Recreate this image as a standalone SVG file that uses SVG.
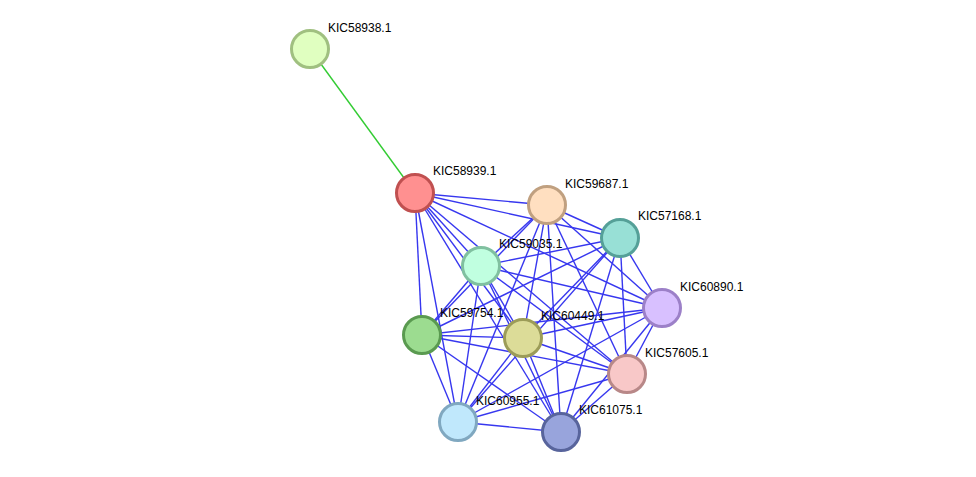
<svg xmlns="http://www.w3.org/2000/svg" width="976" height="477" viewBox="0 0 976 477">
<style>
.e{stroke:#2222ee;stroke-width:1.4;opacity:0.9}
.n{stroke-width:3}
text{font-family:"Liberation Sans",Arial,sans-serif;font-size:12px;fill:#000}
</style>
<rect width="976" height="477" fill="#fff"/>
<g id="connectors">
<line x1="310" y1="49" x2="415" y2="193" stroke="#33cc33" stroke-width="1.4"/>
<g class="e">
<line x1="415" y1="193" x2="547" y2="205"/><line x1="415" y1="193" x2="620" y2="238"/><line x1="415" y1="193" x2="481" y2="266"/><line x1="415" y1="193" x2="662" y2="308"/><line x1="415" y1="193" x2="422" y2="335"/><line x1="415" y1="193" x2="523" y2="338"/><line x1="415" y1="193" x2="627" y2="374"/><line x1="415" y1="193" x2="458" y2="422"/><line x1="415" y1="193" x2="561" y2="432"/>
<line x1="547" y1="205" x2="620" y2="238"/><line x1="547" y1="205" x2="481" y2="266"/><line x1="547" y1="205" x2="662" y2="308"/><line x1="547" y1="205" x2="422" y2="335"/><line x1="547" y1="205" x2="523" y2="338"/><line x1="547" y1="205" x2="627" y2="374"/><line x1="547" y1="205" x2="458" y2="422"/><line x1="547" y1="205" x2="561" y2="432"/>
<line x1="620" y1="238" x2="481" y2="266"/><line x1="620" y1="238" x2="662" y2="308"/><line x1="620" y1="238" x2="422" y2="335"/><line x1="620" y1="238" x2="523" y2="338"/><line x1="620" y1="238" x2="627" y2="374"/><line x1="620" y1="238" x2="458" y2="422"/><line x1="620" y1="238" x2="561" y2="432"/>
<line x1="481" y1="266" x2="662" y2="308"/><line x1="481" y1="266" x2="422" y2="335"/><line x1="481" y1="266" x2="523" y2="338"/><line x1="481" y1="266" x2="627" y2="374"/><line x1="481" y1="266" x2="458" y2="422"/><line x1="481" y1="266" x2="561" y2="432"/>
<line x1="662" y1="308" x2="422" y2="335"/><line x1="662" y1="308" x2="523" y2="338"/><line x1="662" y1="308" x2="627" y2="374"/><line x1="662" y1="308" x2="458" y2="422"/><line x1="662" y1="308" x2="561" y2="432"/>
<line x1="422" y1="335" x2="523" y2="338"/><line x1="422" y1="335" x2="627" y2="374"/><line x1="422" y1="335" x2="458" y2="422"/><line x1="422" y1="335" x2="561" y2="432"/>
<line x1="523" y1="338" x2="627" y2="374"/><line x1="523" y1="338" x2="458" y2="422"/><line x1="523" y1="338" x2="561" y2="432"/>
<line x1="627" y1="374" x2="458" y2="422"/><line x1="627" y1="374" x2="561" y2="432"/>
<line x1="458" y1="422" x2="561" y2="432"/>
</g>
</g>
<g id="KIC58938.1"><circle class="n" cx="310" cy="49" r="18.5" fill="#e0ffc0" stroke="#a0c080"/><text x="328" y="32">KIC58938.1</text></g>
<g id="KIC58939.1"><circle class="n" cx="415" cy="193" r="18.5" fill="#ff9090" stroke="#c05050"/><text x="433" y="175">KIC58939.1</text></g>
<g id="KIC59687.1"><circle class="n" cx="547" cy="205" r="18.5" fill="#ffdfc0" stroke="#c0a080"/><text x="565" y="188">KIC59687.1</text></g>
<g id="KIC57168.1"><circle class="n" cx="620" cy="238" r="18.5" fill="#98e0d6" stroke="#55a098"/><text x="638" y="220">KIC57168.1</text></g>
<g id="KIC59035.1"><circle class="n" cx="481" cy="266" r="18.5" fill="#c0ffe0" stroke="#80c0a0"/><text x="499" y="248">KIC59035.1</text></g>
<g id="KIC60890.1"><circle class="n" cx="662" cy="308" r="18.5" fill="#d8c0ff" stroke="#9c80c8"/><text x="680" y="291">KIC60890.1</text></g>
<g id="KIC59754.1"><circle class="n" cx="422" cy="335" r="18.5" fill="#9cdc90" stroke="#5a9a50"/><text x="440" y="317">KIC59754.1</text></g>
<g id="KIC60449.1"><circle class="n" cx="523" cy="338" r="18.5" fill="#dcdc98" stroke="#9c9c58"/><text x="541" y="320">KIC60449.1</text></g>
<g id="KIC57605.1"><circle class="n" cx="627" cy="374" r="18.5" fill="#f8c8c8" stroke="#b88888"/><text x="645" y="357">KIC57605.1</text></g>
<g id="KIC60955.1"><circle class="n" cx="458" cy="422" r="18.5" fill="#c0e8fc" stroke="#80a8c0"/><text x="476" y="405">KIC60955.1</text></g>
<g id="KIC61075.1"><circle class="n" cx="561" cy="432" r="18.5" fill="#98a4dc" stroke="#58649c"/><text x="579" y="414">KIC61075.1</text></g>
</svg>
